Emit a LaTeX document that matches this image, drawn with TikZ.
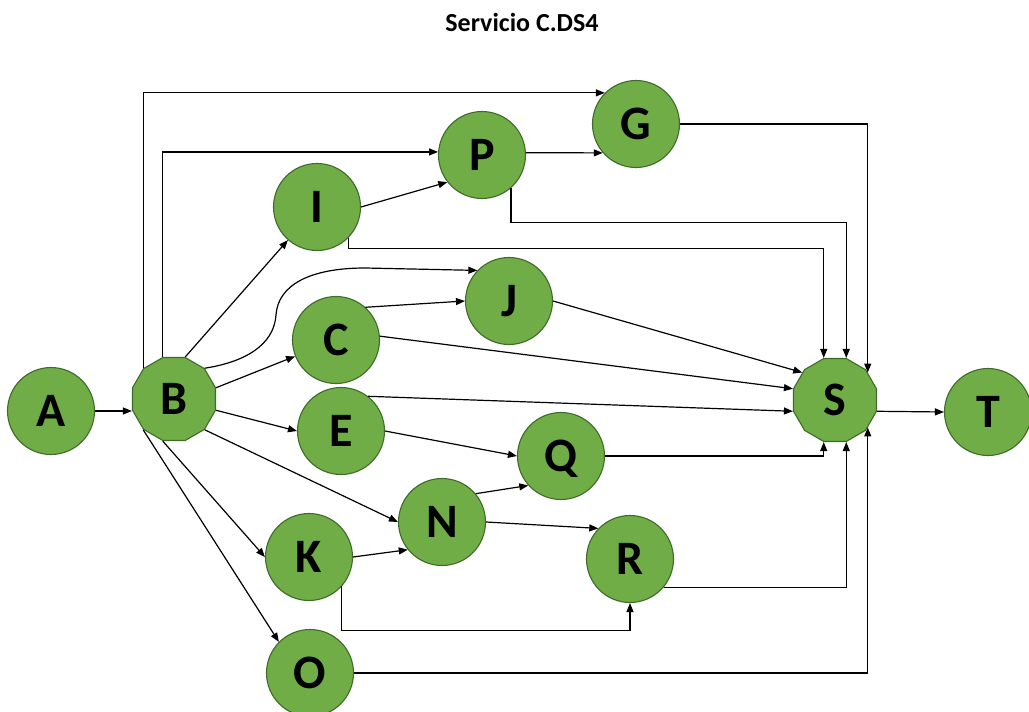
\documentclass[tikz,border=0pt]{standalone}
\usepackage{fontspec}
\setmainfont{Carlito}
\usetikzlibrary{shapes.geometric,arrows.meta}
\definecolor{nodefill}{HTML}{70AD47}
\definecolor{nodeline}{HTML}{3E6B28}
\begin{document}
\begin{tikzpicture}[x=1pt,y=-1pt,
  lettr/.style={font=\fontsize{48}{48}\selectfont\bfseries,text height=31pt,text depth=0pt,inner sep=0pt},
  circ/.style={lettr,circle,fill=nodefill,draw=nodeline,line width=1.1pt,minimum size=87pt},
  poly/.style={lettr,regular polygon,regular polygon sides=12,fill=nodefill,draw=nodeline,line width=1.1pt,minimum size=86pt},
  conn/.style={line width=1.2pt,-{Triangle[length=9pt,width=7pt]}},
  ttl/.style={font=\fontsize{26}{26}\selectfont\bfseries}]
\useasboundingbox (0,0) rectangle (1029,712);
\node[ttl] (title) at (522,22) {Servicio C.DS4};
\node[circ] (A) at (51,411) {A};
\node[poly] (B) at (174,399) {B};
\node[circ] (G) at (636,124) {G};
\node[circ] (P) at (482,155) {P};
\node[circ] (I) at (317,207) {I};
\node[circ] (J) at (509,301) {J};
\node[circ] (C) at (336,340) {C};
\node[circ] (E) at (341,431) {E};
\node[circ] (Q) at (561,456) {Q};
\node[circ] (N) at (442,522) {N};
\node[circ] (K) at (309,557) {K};
\node[circ] (R) at (630,559) {R};
\node[circ] (O) at (310,673) {O};
\node[poly] (S) at (835,400) {S};
\node[circ] (T) at (988,412) {T};

\draw[conn] (A.east) -- (A.east -| B.west);
\draw[conn] (B.135) |- (G.135);
\draw[conn] (B.105) |- (P.176);
\draw[conn] (B.75) -- (I);
\draw[conn] (B.45) .. controls (245,362) and (274,345) .. (276,315) .. controls (278,285) and (310,268) .. (365,268) -- (J.136);
\draw[conn] (B.15) -- (C);
\draw[conn] (B.-15) -- (E.west);
\draw[conn] (B.-45) -- (N.west);
\draw[conn] (B.-105) -- (K.west);
\draw[conn] (B.-135) -- (O.135);
\draw[conn] (I.east) -- (P.218);
\draw[conn] (I.-44) -- ++(0,11) -| (S.105);
\draw[conn] (P.3) -- (G.221);
\draw[conn] (P.-49) -- ++(0,34) -| (S.75);
\draw[conn] (G.east) -| (S.40);
\draw[conn] (J.east) -- (S.140);
\draw[conn] (C.48) -- (J.west);
\draw[conn] (C.5) -- (S.165);
\draw[conn] (E.52) -- (S.-165);
\draw[conn] (E.east) -- (Q.west);
\draw[conn] (Q.east) -| (S.-105);
\draw[conn] (N.40) -- (Q.222);
\draw[conn] (N.east) -- (R.136);
\draw[conn] (K.east) -- (N.219);
\draw[conn] (K.-42) -- ++(0,44) -| (R.south);
\draw[conn] (R.-40) -| (S.-75);
\draw[conn] (O.east) -| (S.-40);
\draw[conn] (S.-15) -- (T.west);
\end{tikzpicture}
\end{document}
